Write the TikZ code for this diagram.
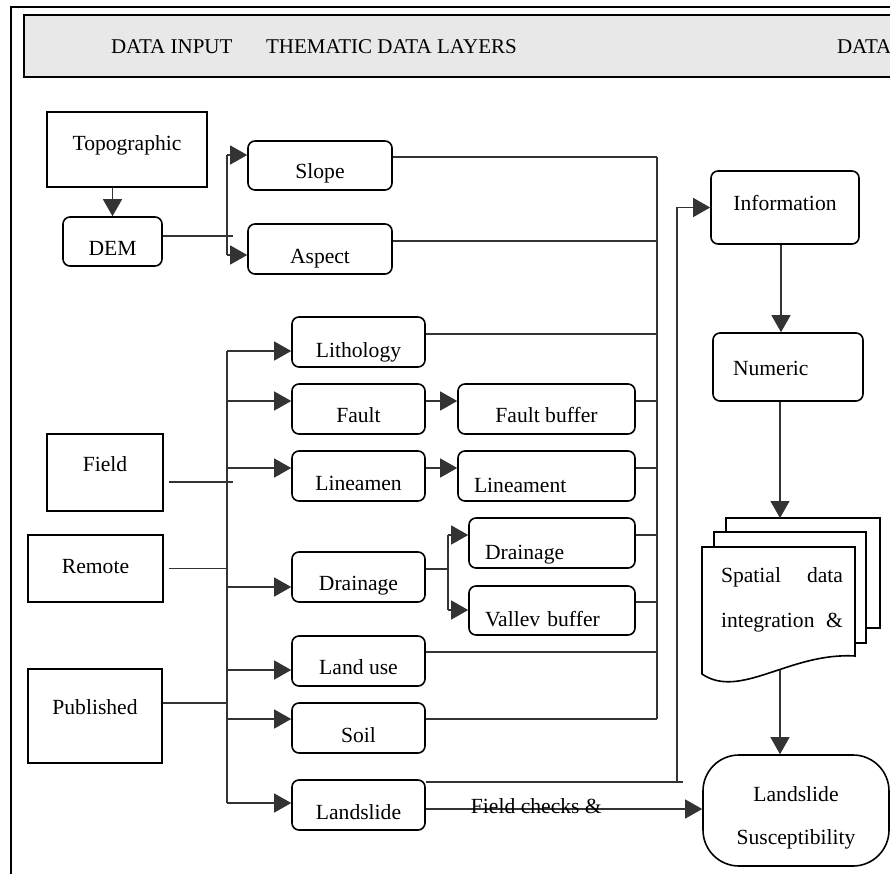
\documentclass[tikz,border=0pt]{standalone}
\usepackage{fontspec}
\setmainfont{Liberation Serif}
\usetikzlibrary{arrows.meta}
\tikzset{
  box/.style={draw, line width=0.8pt, rounded corners=3.5pt, inner sep=0pt, text height=14pt, text depth=0pt},
  src/.style={draw, line width=0.8pt, inner sep=0pt, text depth=0pt},
  sz/.style 2 args={minimum width=#1, minimum height=#2},
  lft/.style={align=left, text width=#1, inner xsep=8pt},
  line/.style={draw=black!80, line width=0.6pt},
  arr/.style={line, -{Triangle[length=8.5pt, width=9.5pt]}},
  hdr/.style={anchor=base west, font=\fontsize{10.5}{13}\selectfont},
  page/.style={draw, fill=white, line width=0.8pt}
}

\begin{document}
\begin{tikzpicture}[x=0.5pt, y=-0.5pt, font=\fontsize{10.8}{13}\selectfont]
\useasboundingbox (0,0) rectangle (890,874);
\clip (0,0) rectangle (890,874);
% frame and header band
\draw[line width=0.8pt] (11,874) -- (11,7) -- (900,7);
\draw[fill=black!9, line width=0.8pt] (24,15) rectangle (900,77);
\node[hdr] (hin) at (104,53) {DATA INPUT};
\node[hdr] (hthm) at (259,53) {THEMATIC DATA LAYERS};
\node[hdr] (hint) at (830,53) {DATA};

% data input
\node[src, sz={80pt}{37.5pt}, text height=0.5pt] (topo) at (127,149.5) {Topographic};
\node[box, sz={49.5pt}{24.5pt}, text height=13.5pt] (dem) at (112.5,241.5) {DEM};
\node[src, sz={58pt}{38.5pt}, text height=0pt, text depth=1.5pt] (field) at (105,472.5) {Field};
\node[src, sz={67.5pt}{33.5pt}, text height=4.5pt] (remote) at (95.5,568.5) {Remote};
\node[src, sz={67pt}{47pt}, text height=0pt, text depth=2pt] (publ) at (95,716) {Published};

% thematic layers
\node[box, sz={72pt}{24.5pt}, text height=13pt] (slope) at (320,165.5) {Slope};
\node[box, sz={72pt}{25pt}] (aspect) at (320,249) {Aspect};
\node[box, sz={66.5pt}{25pt}, text height=15pt] (litho) at (358.5,342) {Lithology};
\node[box, sz={66.5pt}{25pt}, text height=13pt] (fault) at (358.5,409) {Fault};
\node[box, sz={88.5pt}{25pt}, text height=13pt] (faultbuf) at (546.5,409) {Fault buffer};
\node[box, sz={66.5pt}{25pt}] (linea) at (358.5,476) {Lineamen};
\node[box, sz={88.5pt}{25pt}, lft=72.5pt, text height=16pt] (lineament) at (546.5,476) {Lineament};
\node[box, sz={66.5pt}{25pt}, text height=13pt] (drain) at (358.5,577) {Drainage};
\node[box, sz={83pt}{25pt}, lft=67pt, text height=16pt] (drainb) at (552,543) {Drainage};
\node[box, sz={83pt}{24.5pt}, lft=67pt, text height=16pt] (valley) at (552,610.5) {Vallev buffer};
\node[box, sz={66.5pt}{25pt}, text height=13pt] (landuse) at (358.5,661) {Land use};
\node[box, sz={66.5pt}{25pt}] (soil) at (358.5,728) {Soil};
\node[box, sz={66.5pt}{25pt}] (lslide) at (358.5,805) {Landslide};

% data integration
\node[box, sz={74pt}{36.5pt}, text height=2.5pt] (info) at (785,207.5) {Information};
\node[box, sz={75pt}{34pt}, lft=55pt, inner xsep=10pt, text height=8pt] (numeric) at (788,367) {Numeric};
\draw[page] (726,518) rectangle (880,628);
\draw[page] (714,532) rectangle (866,643);
\draw[page] (702,674) -- (702,547) -- (855,547) -- (855,656)
  .. controls (790,652) and (740,700) .. (702,674) -- cycle;
\node[align=left, font=\fontsize{10.8}{22.5}\selectfont] (doc) at (782,600)
  {\makebox[61pt][s]{Spatial data}\\\makebox[61pt][s]{integration \&}};
\coordinate (doctop) at (780,518);
\coordinate (docbot) at (780,670);
\node[box, rounded corners=18pt, sz={93pt}{55.5pt}, text height=0pt,
  label={[align=center, font=\fontsize{10.8}{21.5}\selectfont, yshift=-3.5pt]center:Landslide\\Susceptibility}]
  (susc) at (796,810.5) {};

% bus points
\coordinate (sa) at (227,155);
\coordinate (sb) at (227,255);
\coordinate (la) at (227,351);
\coordinate (lb) at (227,803);
\coordinate (ra) at (657,157);
\coordinate (rb) at (657,719);
\coordinate (da) at (448,535);
\coordinate (db) at (448,610);
\coordinate (ib) at (677,782);

% connectors
\draw[arr] (dem.north |- topo.south) -- (dem.north);
\draw[line] ([yshift=2.75pt]dem.east) -- ++(35pt,0);
\draw[line] (sa) -- (sb);
\draw[arr] (sa) -- (sa -| slope.west);
\draw[arr] (sb) -- (sb -| aspect.west);

\draw[line] ([xshift=2.5pt,yshift=-4.75pt]field.east) -- ++(32pt,0);
\draw[line] ([xshift=2.5pt]remote.east) -- (remote.east -| la);
\draw[line] ([yshift=6.5pt]publ.east) -- ([yshift=6.5pt]publ.east -| la);
\draw[line] (la) -- (lb);
\foreach \n/\s in {litho/-4.5pt, fault/4pt, linea/4pt, drain/-5pt, landuse/-4.5pt, soil/4.5pt, lslide/1pt}
  \draw[arr] ([yshift=\s]\n.west -| la) -- ([yshift=\s]\n.west);

\draw[arr] ([yshift=4pt]fault.east) -- ([yshift=4pt]faultbuf.west);
\draw[arr] ([yshift=4pt]linea.east) -- ([yshift=4pt]lineament.west);
\draw[line] ([yshift=4pt]drain.east) -- ([yshift=4pt]drain.east -| da);
\draw[line] (da) -- (db);
\draw[arr] (da) -- (da -| drainb.west);
\draw[arr] (db) -- (db -| valley.west);

\draw[line] (ra) -- (rb);
\foreach \n/\s in {slope/4.25pt, aspect/4pt, litho/4pt, faultbuf/4pt, lineament/4pt, drainb/4pt, valley/4.25pt, landuse/4.5pt, soil/4.5pt}
  \draw[line] ([yshift=\s]\n.east) -- ([yshift=\s]\n.east -| ra);

\draw[line] ([yshift=11.5pt]lslide.east) -- ++(128.5pt,0);
\draw[arr] (ib) |- (info.west);
\draw[arr] ([xshift=-2pt]info.south) -- ([xshift=-2pt]info.south |- numeric.north);
\draw[arr] (numeric.south -| doctop) -- (doctop);
\draw[arr] (docbot) -- (docbot |- susc.north);
\draw[arr] ([yshift=-2pt]lslide.east) -- ([yshift=-2pt]lslide.east -| susc.west)
  node[pos=0.4, anchor=base, yshift=-2pt] (fchk) {Field checks \&};
\end{tikzpicture}
\end{document}
